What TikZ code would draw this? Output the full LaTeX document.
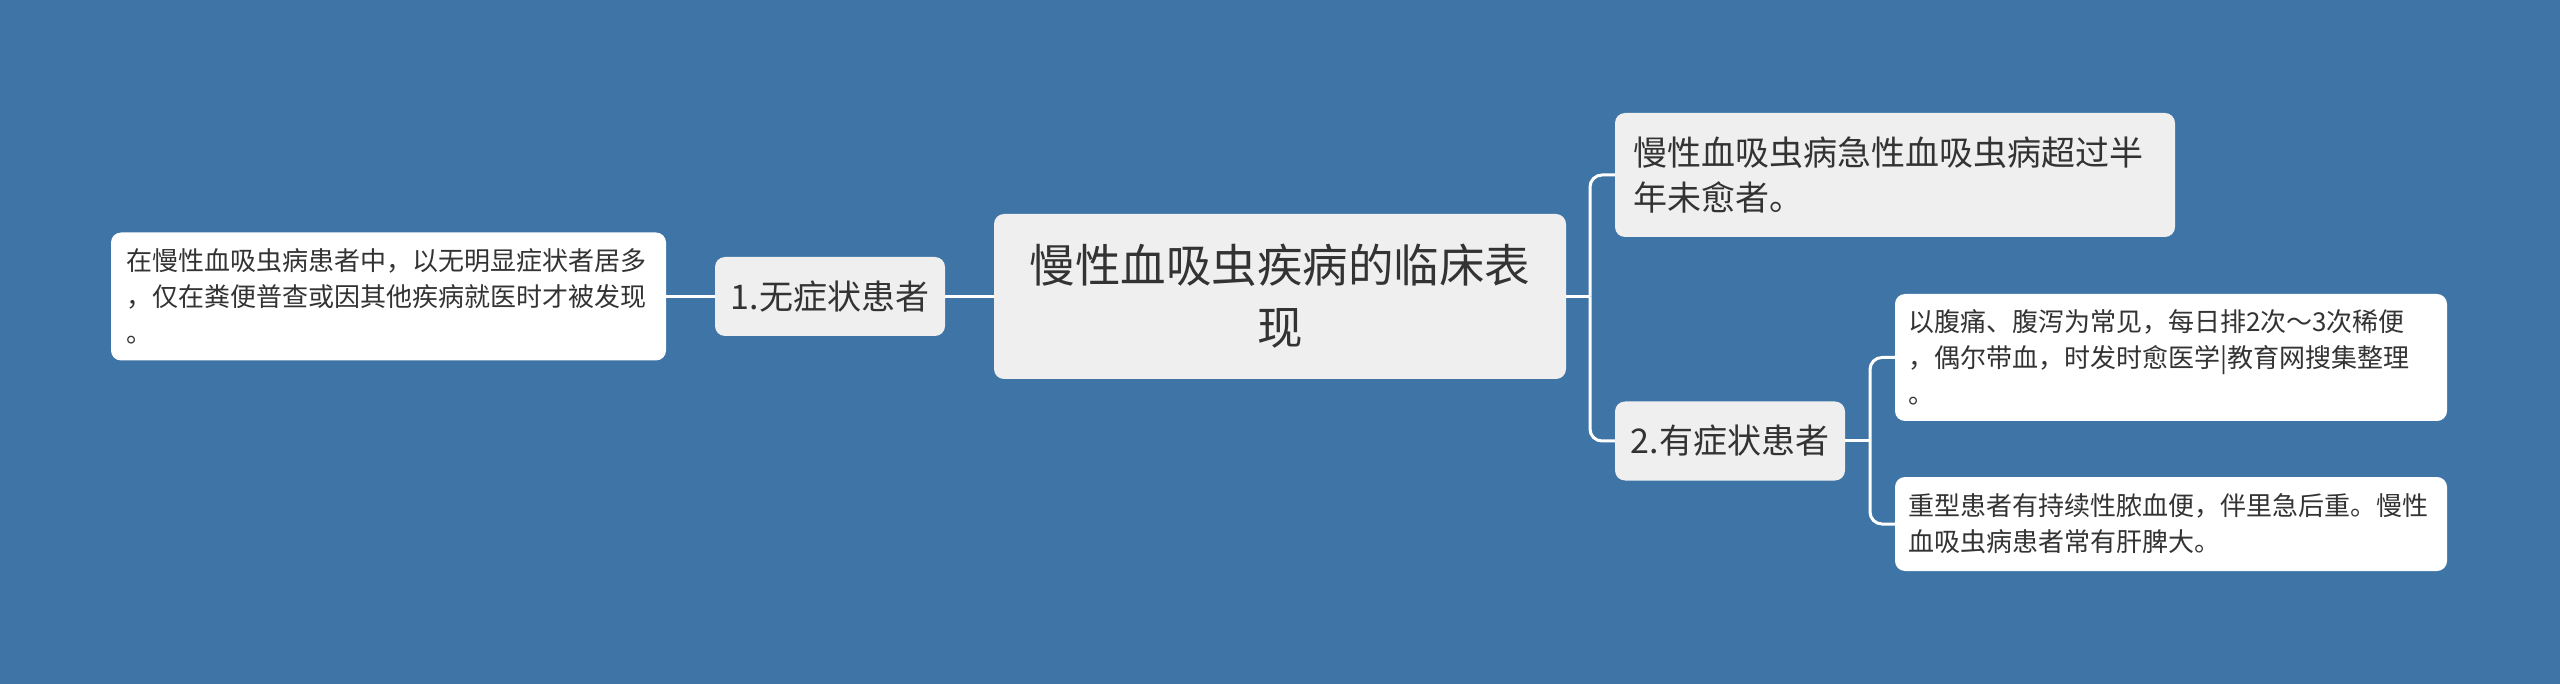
\documentclass[tikz,border=0pt]{standalone}
\usepackage{fontspec}
\setmainfont{Noto Sans CJK SC}
\definecolor{mmbg}{RGB}{62,116,166}
\definecolor{mmgrey}{HTML}{EFEFEF}
\definecolor{mmtxt}{HTML}{333333}
\begin{document}
\begin{tikzpicture}[x=1pt,y=-1pt,
 box/.style={rounded corners=10pt, inner ysep=0pt, text=mmtxt},
 rootbox/.style={box, fill=mmgrey, minimum width=572pt, minimum height=165pt, align=center, font=\fontsize{45.5}{62}\selectfont},
 subbox/.style={box, fill=mmgrey, minimum width=230pt, minimum height=79pt, font=\fontsize{34}{45}\selectfont},
 leafbox/.style={box, fill=white, align=left, font=\fontsize{26}{36}\selectfont},
 link/.style={draw=white, line width=3pt}]
\fill[mmbg] (0,0) rectangle (2560,684);
\node[rootbox] (root) at (1280,296.5) {慢性血吸虫疾病的临床表\\现};
\node[subbox] (n1) at (830,296.5) {1.无症状患者};
\node[leafbox, inner xsep=15pt, text width=525pt, minimum height=128pt] (l1) at (388.5,296.5) {在慢性血吸虫病患者中，以无明显症状者居多\\，仅在粪便普查或因其他疾病就医时才被发现\\。};
\node[subbox, align=left, inner xsep=18pt, text width=524pt, minimum height=124pt] (r1) at (1895,175) {慢性血吸虫病急性血吸虫病超过半\\年未愈者。};
\node[subbox] (n2) at (1730,441) {2.有症状患者};
\node[leafbox, inner xsep=13pt, text width=526pt, minimum height=127pt] (s1) at (2171,357.5) {以腹痛、腹泻为常见，每日排2次～3次稀便\\，偶尔带血，时发时愈医学|教育网搜集整理\\。};
\node[leafbox, inner xsep=13pt, text width=526pt, minimum height=94pt] (s2) at (2171,524) {重型患者有持续性脓血便，伴里急后重。慢性\\血吸虫病患者常有肝脾大。};
\coordinate (j1) at (1590,296.5);
\coordinate (j2) at (1870,441);
\draw[link] (l1.east) -- (n1.west);
\draw[link] (n1.east) -- (root.west);
\draw[link] (root.east) -- (j1);
\draw[link, rounded corners=12pt] (j1) |- (r1.west);
\draw[link, rounded corners=12pt] (j1) |- (n2.west);
\draw[link] (n2.east) -- (j2);
\draw[link, rounded corners=12pt] (j2) |- (s1.west);
\draw[link, rounded corners=12pt] (j2) |- (s2.west);
\end{tikzpicture}
\end{document}
